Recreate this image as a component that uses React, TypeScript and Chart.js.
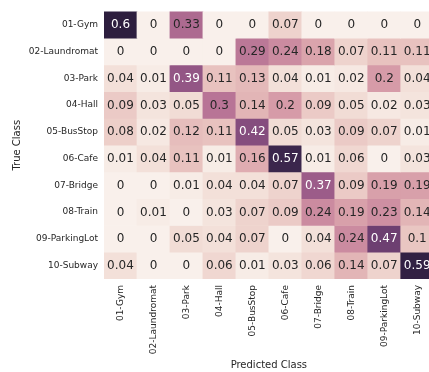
import React, { useEffect, useRef } from "react";
import { Chart, registerables } from "chart.js";

Chart.register(...registerables);

const predictedLabels = [
  "01-Gym", "02-Laundromat", "03-Park", "04-Hall", "05-BusStop",
  "06-Cafe", "07-Bridge", "08-Train", "09-ParkingLot", "10-Subway",
];
const trueLabels = [
  "01-Gym", "02-Laundromat", "03-Park", "04-Hall", "05-BusStop",
  "06-Cafe", "07-Bridge", "08-Train", "09-ParkingLot", "10-Subway",
];

const rowGym = [0.6, 0, 0.33, 0, 0, 0.07, 0, 0, 0, 0];
const rowLaundromat = [0, 0, 0, 0, 0.29, 0.24, 0.18, 0.07, 0.11, 0.11];
const rowPark = [0.04, 0.01, 0.39, 0.11, 0.13, 0.04, 0.01, 0.02, 0.2, 0.04];
const rowHall = [0.09, 0.03, 0.05, 0.3, 0.14, 0.2, 0.09, 0.05, 0.02, 0.03];
const rowBusStop = [0.08, 0.02, 0.12, 0.11, 0.42, 0.05, 0.03, 0.09, 0.07, 0.01];
const rowCafe = [0.01, 0.04, 0.11, 0.01, 0.16, 0.57, 0.01, 0.06, 0, 0.03];
const rowBridge = [0, 0, 0.01, 0.04, 0.04, 0.07, 0.37, 0.09, 0.19, 0.19];
const rowTrain = [0, 0.01, 0, 0.03, 0.07, 0.09, 0.24, 0.19, 0.23, 0.14];
const rowParkingLot = [0, 0, 0.05, 0.04, 0.07, 0, 0.04, 0.24, 0.47, 0.1];
const rowSubway = [0.04, 0, 0, 0.06, 0.01, 0.03, 0.06, 0.14, 0.07, 0.59];

const matrix = [
  rowGym, rowLaundromat, rowPark, rowHall, rowBusStop,
  rowCafe, rowBridge, rowTrain, rowParkingLot, rowSubway,
];

const vMin = 0;
const vMax = 0.6;

// seaborn cubehelix_palette(light=.95, dark=.15) colormap
function cubehelixRGB(t: number): [number, number, number] {
  const light = 0.95, dark = 0.15, start = 0, rot = 0.4, hue = 0.8, gamma = 1;
  const x = light + (dark - light) * Math.min(1, Math.max(0, t));
  const xg = Math.pow(x, gamma);
  const a = (hue * xg * (1 - xg)) / 2;
  const phi = 2 * Math.PI * (start / 3 + rot * x);
  const f = (p0: number, p1: number) =>
    Math.min(1, Math.max(0, xg + a * (p0 * Math.cos(phi) + p1 * Math.sin(phi))));
  return [f(-0.14861, 1.78277), f(-0.29227, -0.90649), f(1.97294, 0.0)];
}

function colorFor(v: number): string {
  const [r, g, b] = cubehelixRGB((v - vMin) / (vMax - vMin));
  return `rgb(${Math.round(r * 255)},${Math.round(g * 255)},${Math.round(b * 255)})`;
}

// HLS lightness rule for annotation colour
function textColorFor(v: number): string {
  const rgb = cubehelixRGB((v - vMin) / (vMax - vMin));
  const l = (Math.max(...rgb) + Math.min(...rgb)) / 2;
  return l > 0.5 ? "#262626" : "#ffffff";
}

const FONT = '"DejaVu Sans", sans-serif';
const TEXT = "#262626";

const annotatePlugin = {
  id: "annotate",
  afterDatasetsDraw(chart: any) {
    const ctx = chart.ctx;
    ctx.save();
    ctx.font = `12px ${FONT}`;
    ctx.textAlign = "center";
    ctx.textBaseline = "middle";
    chart.data.datasets.forEach((_ds: any, i: number) => {
      const meta = chart.getDatasetMeta(i);
      meta.data.forEach((bar: any, j: number) => {
        const v = matrix[i][j];
        const { x, y, base } = bar.getProps(["x", "y", "base"], true);
        ctx.fillStyle = textColorFor(v);
        ctx.fillText(String(v), x, (y + base) / 2 + 0.5);
      });
    });
    ctx.restore();
  },
};

export default function App() {
  const ref = useRef<HTMLCanvasElement | null>(null);
  useEffect(() => {
    if (!ref.current) return;
    const chart = new Chart(ref.current, {
      type: "bar",
      data: {
        labels: predictedLabels,
        datasets: trueLabels.map((name, i) => ({
          label: name,
          data: predictedLabels.map(() => [i, i + 1]),
          backgroundColor: matrix[i].map((v) => colorFor(v)),
          grouped: false,
          barPercentage: 1,
          categoryPercentage: 1,
          borderWidth: 0,
          borderSkipped: false,
        })) as any,
      },
      options: {
        responsive: false,
        animation: false,
        layout: { padding: { top: 3, right: 0, left: 0, bottom: 0 } },
        plugins: { legend: { display: false }, tooltip: { enabled: false } },
        scales: {
          x: {
            type: "category",
            grid: { display: false, drawTicks: false },
            border: { display: false },
            ticks: {
              autoSkip: false,
              maxRotation: 90,
              minRotation: 90,
              padding: 6,
              color: TEXT,
              font: { family: FONT, size: 9 },
            },
            title: {
              display: true,
              text: "Predicted Class",
              color: TEXT,
              font: { family: FONT, size: 10 },
              padding: { top: 0, bottom: 1 },
            },
            afterFit: (s: any) => {
              s.height = 93;
            },
          },
          y: {
            type: "linear",
            reverse: true,
            min: 0,
            max: trueLabels.length,
            grid: { display: false, drawTicks: false },
            border: { display: false },
            afterBuildTicks: (s: any) => {
              s.ticks = trueLabels.map((_, i) => ({ value: i + 0.5 }));
            },
            ticks: {
              autoSkip: false,
              padding: 6,
              color: TEXT,
              font: { family: FONT, size: 9 },
              callback: (v: any) => trueLabels[Math.floor(Number(v))],
            },
            title: {
              display: true,
              text: "True Class",
              color: TEXT,
              font: { family: FONT, size: 10 },
              padding: { top: 11, bottom: 0 },
            },
            afterFit: (s: any) => {
              s.width = 104;
            },
          },
        },
      },
      plugins: [annotatePlugin],
    });
    return () => chart.destroy();
  }, []);

  return (
    <div
      style={{
        position: "absolute",
        left: 0,
        top: 0,
        width: 429,
        height: 372,
        overflow: "hidden",
        background: "#ffffff",
      }}
    >
      <canvas ref={ref} width={434} height={372} style={{ display: "block" }} />
    </div>
  );
}
